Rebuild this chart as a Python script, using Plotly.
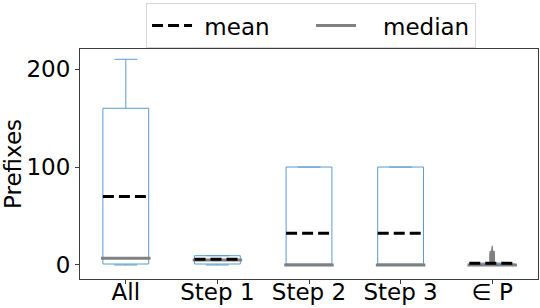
import plotly.graph_objects as go

categories = ["All", "Step 1", "Step 2", "Step 3", "∈ P"]
positions = [1, 2, 3, 4, 5]
q1 = [1, 1, 0, 0, 0]
median = [7, 5, 0, 0, 0]
q3 = [160, 9.5, 100, 100, 1]
lower = [0, 0, 0, 0, 0]
upper = [210, 9.5, 100, 100, 2]
mean = [70, 5.8, 32.3, 32.3, 1.7]
flier_dense = [4, 5, 6, 7, 8, 9, 10, 11, 12]
flier_sparse = [13, 14, 15, 16, 17]
flier_pos = 5
yticks = [0, 100, 200]

BLUE = "rgb(90,155,212)"
GRAY = "rgb(128,128,128)"
FONT = "DejaVu Sans"
FS = 23
half = 0.25

fig = go.Figure()
for i, p in enumerate(positions):
    fig.add_trace(go.Box(
        x=[p], q1=[q1[i]], median=[median[i]], q3=[q3[i]],
        lowerfence=[lower[i]], upperfence=[upper[i]],
        width=0.5, whiskerwidth=0.5, fillcolor="rgba(0,0,0,0)",
        line=dict(color=BLUE, width=1), boxpoints=False,
        showlegend=False, hoverinfo="skip"))

# fliers
fig.add_trace(go.Scatter(
    x=[flier_pos] * len(flier_dense), y=flier_dense, mode="markers",
    marker=dict(symbol="square", size=5, color=GRAY, line=dict(width=0)),
    showlegend=False, hoverinfo="skip"))
fig.add_trace(go.Scatter(
    x=[flier_pos] * len(flier_sparse), y=flier_sparse, mode="markers",
    marker=dict(symbol="line-ns-open", size=4, color=GRAY,
                line=dict(color=GRAY, width=1)),
    showlegend=False, hoverinfo="skip"))

mx, my, dx, dy = [], [], [], []
for i, p in enumerate(positions):
    mx += [p - half - 0.02, p + half + 0.02, None]
    my += [median[i], median[i], None]
    dx += [p - half, p + half, None]
    dy += [mean[i], mean[i], None]

fig.add_trace(go.Scatter(x=mx, y=my, mode="lines", name="\u00a0\u00a0\u00a0median",
                         line=dict(color=GRAY, width=3)))
fig.add_trace(go.Scatter(x=dx, y=dy, mode="lines", name="\u00a0mean",
                         line=dict(color="black", width=3, dash="11px,5px")))

axis_common = dict(showgrid=False, zeroline=False, showline=True, mirror=True,
                   linecolor="rgb(60,60,60)", linewidth=1, ticks="outside",
                   ticklen=4, tickcolor="rgb(60,60,60)",
                   tickfont=dict(size=FS, family=FONT, color="black"))

fig.update_layout(
    width=540, height=308,
    margin=dict(l=80, r=2, t=49, b=29, autoexpand=False),
    paper_bgcolor="white", plot_bgcolor="white",
    font=dict(family=FONT, size=FS, color="black"),
    legend=dict(orientation="h", xref="container", yref="container",
                x=0.576, xanchor="center", y=0.99, yanchor="top",
                bordercolor="rgb(215,215,215)", borderwidth=1,
                font=dict(size=FS, family=FONT), traceorder="reversed",
                itemwidth=40, entrywidthmode="pixels", entrywidth=109),
    xaxis=dict(range=[0.5, 5.5], tickvals=positions, ticktext=categories,
               ticklabelstandoff=-12, **axis_common),
    yaxis=dict(range=[-14.3, 220.5], tickvals=yticks,
               title=dict(text="Prefixes", font=dict(size=FS, family=FONT), standoff=4),
               **axis_common),
)

fig.write_html("out.html", config={"displayModeBar": False},
               post_script="document.body.style.margin='0';document.body.style.overflow='hidden';")
